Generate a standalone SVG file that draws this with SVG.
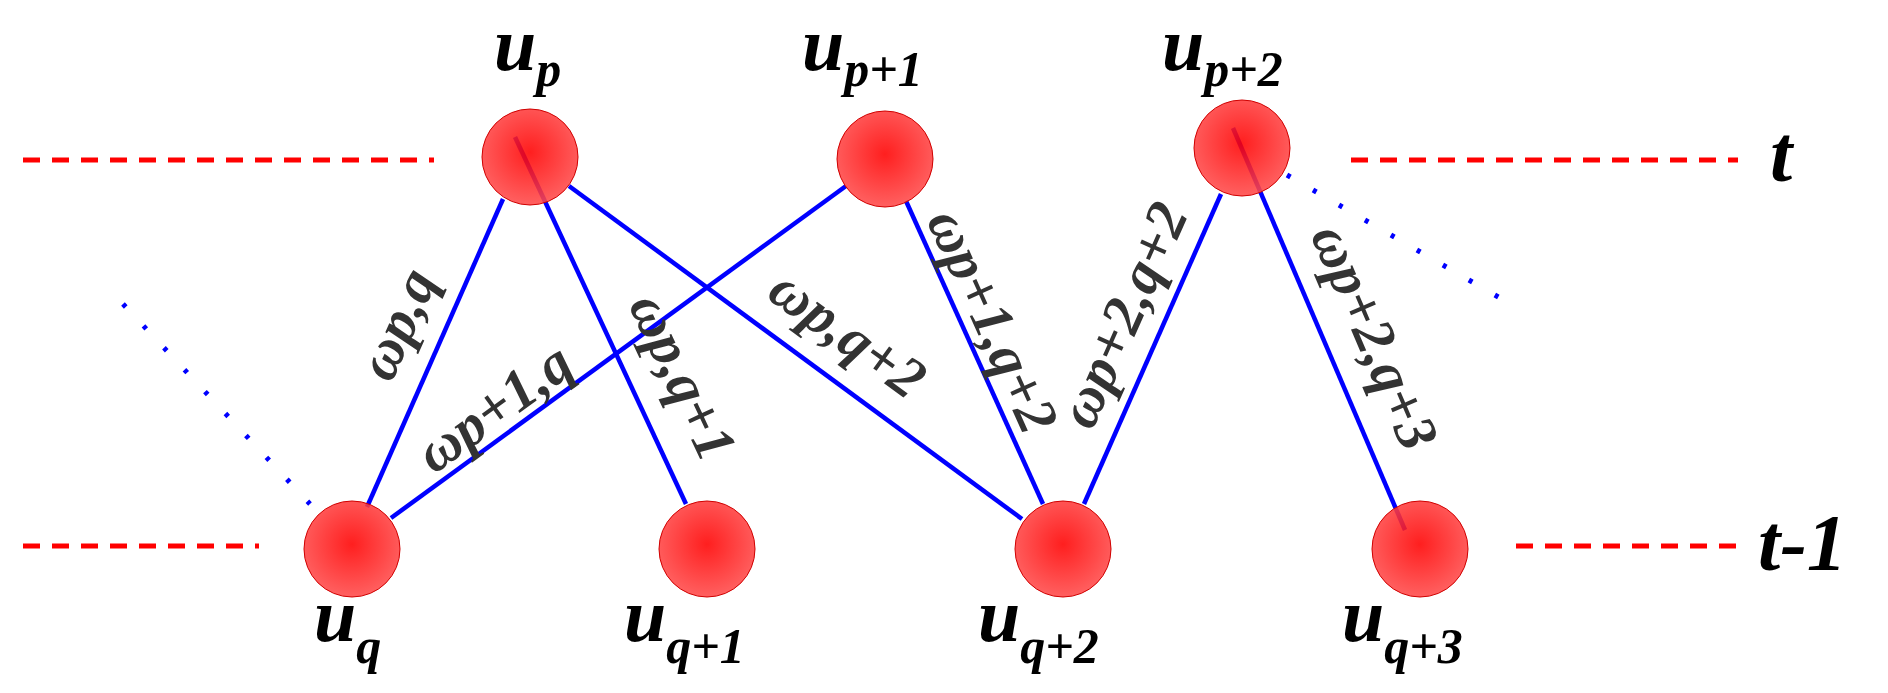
<svg xmlns="http://www.w3.org/2000/svg" width="1888" height="693" viewBox="0 0 1888 693">
<defs>
<radialGradient id="g" cx="0.5" cy="0.45" r="0.55">
<stop offset="0" stop-color="#ff0000"/>
<stop offset="1" stop-color="#ff4a4a"/>
</radialGradient>
<style>
.node{fill:url(#g);fill-opacity:0.88;stroke:#d00000;stroke-width:1}
.e{stroke:#0000ff;stroke-width:4.5;fill:none}
.dot{stroke:#0000ff;stroke-width:5;stroke-dasharray:4 26;fill:none}
.dash{stroke:#ff0000;stroke-width:5;stroke-dasharray:17 12;fill:none}
.lbl{font-family:"Liberation Serif",serif;font-style:italic;font-weight:bold;fill:#000}
.u{font-size:76px}
.s{font-size:50px}
.w{font-family:"Liberation Serif",serif;font-style:italic;font-weight:bold;font-size:58px;fill:#333;text-anchor:middle}
.tl{font-family:"Liberation Serif",serif;font-style:italic;font-weight:bold;font-size:80px;fill:#000}
</style>
</defs>
<g id="connectors">
<line class="dash" x1="23" y1="160" x2="434" y2="160"/>
<line class="dash" x1="23" y1="546" x2="259" y2="546"/>
<line class="dash" x1="1351" y1="160" x2="1738" y2="160"/>
<line class="dash" x1="1516" y1="546" x2="1738" y2="546"/>
<line class="dot" x1="123" y1="304" x2="310" y2="504"/>
<line class="dot" x1="1287" y1="175" x2="1500" y2="298"/>
<line class="e" x1="503" y1="199" x2="367" y2="507"/>
<line class="e" x1="515" y1="137" x2="686" y2="504"/>
<line class="e" x1="569" y1="186" x2="1022" y2="519"/>
<line class="e" x1="846" y1="186" x2="391" y2="518"/>
<line class="e" x1="906" y1="201" x2="1043" y2="504"/>
<line class="e" x1="1221" y1="194" x2="1084" y2="504"/>
<line class="e" x1="1233" y1="128" x2="1405" y2="530"/>
</g>
<g id="n_up"><ellipse class="node" cx="530" cy="157" rx="48" ry="48"/></g>
<g id="n_up1"><ellipse class="node" cx="885" cy="159" rx="48" ry="48"/></g>
<g id="n_up2"><ellipse class="node" cx="1242" cy="148" rx="48" ry="48"/></g>
<g id="n_uq"><ellipse class="node" cx="352" cy="549" rx="48" ry="48"/></g>
<g id="n_uq1"><ellipse class="node" cx="707" cy="549" rx="48" ry="48"/></g>
<g id="n_uq2"><ellipse class="node" cx="1063" cy="549" rx="48" ry="48"/></g>
<g id="n_uq3"><ellipse class="node" cx="1420" cy="549" rx="48" ry="48"/></g>
<g id="labels">
<text class="lbl" x="494" y="70"><tspan class="u">u</tspan><tspan class="s" dy="16">p</tspan></text>
<text class="lbl" x="802" y="70"><tspan class="u">u</tspan><tspan class="s" dy="16">p+1</tspan></text>
<text class="lbl" x="1162" y="70"><tspan class="u">u</tspan><tspan class="s" dy="16">p+2</tspan></text>
<text class="lbl" x="314" y="641"><tspan class="u">u</tspan><tspan class="s" dy="22">q</tspan></text>
<text class="lbl" x="624" y="641"><tspan class="u">u</tspan><tspan class="s" dy="22">q+1</tspan></text>
<text class="lbl" x="978" y="641"><tspan class="u">u</tspan><tspan class="s" dy="22">q+2</tspan></text>
<text class="lbl" x="1342" y="641"><tspan class="u">u</tspan><tspan class="s" dy="22">q+3</tspan></text>
<text class="tl" x="1770" y="181">t</text>
<text class="tl" x="1758" y="570">t-1</text>
<text class="w" transform="translate(400,325) rotate(-66)" y="16">ωp,q</text>
<text class="w" transform="translate(496,410) rotate(-36)" y="16">ωp+1,q</text>
<text class="w" transform="translate(680,378) rotate(65)" y="16">ωp,q+1</text>
<text class="w" transform="translate(846,336) rotate(36)" y="16">ωp,q+2</text>
<text class="w" transform="translate(990,322) rotate(65.7)" y="16">ωp+1,q+2</text>
<text class="w" transform="translate(1126,316) rotate(-66)" y="16">ωp+2,q+2</text>
<text class="w" transform="translate(1372,338) rotate(66.8)" y="16">ωp+2,q+3</text>
</g>
</svg>
